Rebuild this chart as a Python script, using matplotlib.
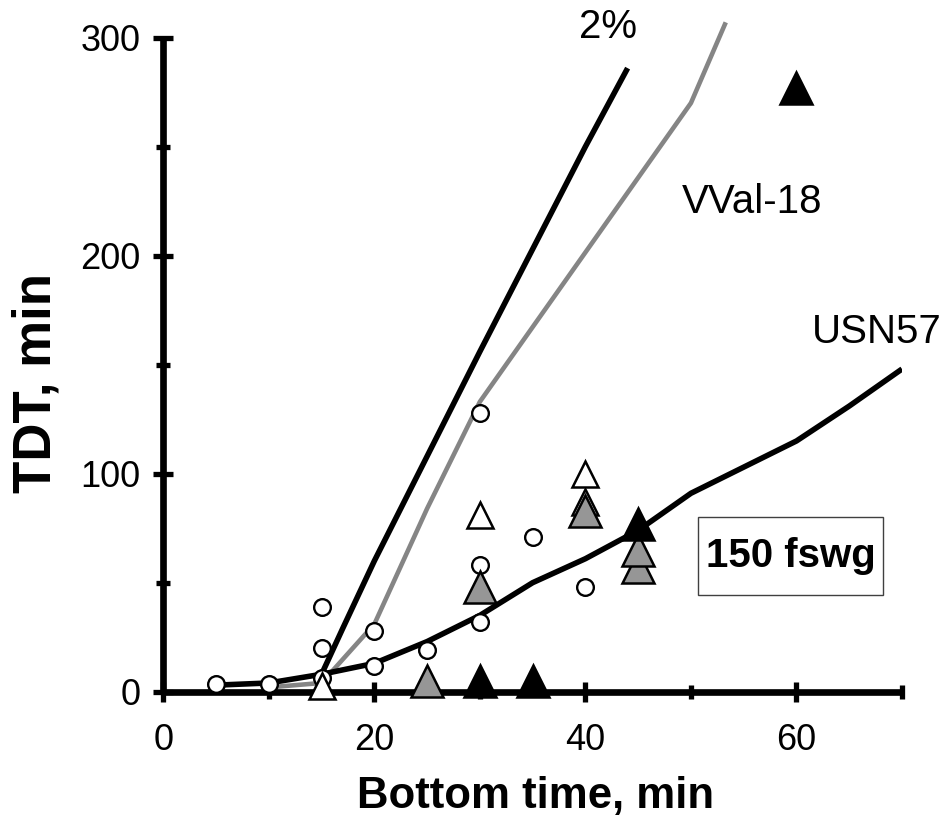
import matplotlib
matplotlib.use("Agg")
import matplotlib.pyplot as plt
from matplotlib.patches import Rectangle

plt.rcParams['font.family'] = ['Liberation Sans', 'DejaVu Sans']

# ---- data ----
usn_x = [5, 10, 15, 20, 25, 30, 35, 40, 45, 50, 55, 60, 65, 70]
usn_y = [3, 4, 8, 13, 23, 35, 50, 61, 74, 91, 103, 115, 131, 148]

two_x = [15, 17, 20, 25, 30, 35, 40, 44]
two_y = [8, 29, 60, 108, 156, 203, 250, 286]

vval_x = [10, 15, 20, 25, 30, 50, 53.3]
vval_y = [2, 4, 31, 84, 133, 270, 307]

circ_x = [5, 10, 15, 15, 15, 20, 20, 25, 30, 30, 30, 35, 40]
circ_y = [3.5, 3.5, 39, 20, 6.5, 28, 12, 19, 128, 58, 32, 71, 48]

wtri_x = [15, 30, 40, 40]
wtri_y = [2.5, 81, 87, 100]

gtri_x = [25, 30, 40, 45, 45]
gtri_y = [5, 48, 83, 57, 65]

btri_x = [30, 35, 45, 60]
btri_y = [5, 5, 77, 277]

xticks = [0, 20, 40, 60]
xminor = [10, 30, 50, 70]
yticks = [0, 100, 200, 300]
yminor = [50, 150, 250]

W, H = 949, 818
fig = plt.figure(figsize=(W / 100, H / 100), dpi=100)
x0, x1 = 163.3, 902.0
y0, y1 = 691.7, 37.6
ax = fig.add_axes([x0 / W, 1 - y0 / H, (x1 - x0) / W, (y0 - y1) / H])
ax.set_xlim(0, 70)
ax.set_ylim(0, 300)

GRAYLINE = '#858585'
GRAYFILL = '#969696'

ax.plot(two_x, two_y, color='black', lw=4.0, zorder=3, solid_capstyle='butt')
ax.plot(vval_x, vval_y, color=GRAYLINE, lw=3.3, zorder=3, clip_on=False,
        solid_capstyle='butt')
ax.plot(usn_x, usn_y, color='black', lw=4.0, zorder=3, solid_capstyle='butt')

ax.plot(circ_x, circ_y, ls='none', marker='o', ms=12, mfc='white', mec='black',
        mew=1.7, zorder=5, clip_on=False)
ax.plot(wtri_x, wtri_y, ls='none', marker='^', ms=19, mfc='white', mec='black',
        mew=1.8, zorder=6, clip_on=False)
ax.plot(gtri_x, gtri_y, ls='none', marker='^', ms=23, mfc=GRAYFILL, mec='black',
        mew=1.8, zorder=7, clip_on=False)
ax.plot(btri_x, btri_y, ls='none', marker='^', ms=23, mfc='black', mec='black',
        mew=1.8, zorder=8, clip_on=False)

for s in ['top', 'right']:
    ax.spines[s].set_visible(False)
for s in ['left', 'bottom']:
    ax.spines[s].set_linewidth(4.8)
    ax.spines[s].set_capstyle('butt')

ax.set_xticks(xticks)
ax.set_xticks(xminor, minor=True)
ax.set_yticks(yticks)
ax.set_yticks(yminor, minor=True)
ax.tick_params(which='major', direction='inout', length=14.4, width=3.8,
               labelsize=26, color='black')
ax.tick_params(which='minor', direction='inout', length=10, width=3.8,
               color='black')
ax.tick_params(axis='x', which='major', pad=15)
ax.tick_params(axis='y', which='major', pad=9)

fig.text(536 / W, 1 - 808 / H, 'Bottom time, min', fontsize=31.5,
         fontweight='bold', ha='center', va='baseline')
fig.text(37 / W, 1 - 383 / H, 'TDT, min', fontsize=38, fontweight='bold',
         rotation=90, ha='center', va='center')

ax.text(42.1, 305, '2%', fontsize=29, ha='center', va='center', clip_on=False)
ax.text(55.8, 224.8, 'VVal-18', fontsize=29, ha='center', va='center')
ax.text(67.6, 165.1, 'USN57', fontsize=29, ha='center', va='center',
        clip_on=False)

ax.add_patch(Rectangle((50.7, 44.4), 17.5, 35.9, fill=True, facecolor='white',
                       edgecolor='#404040', lw=1.0, zorder=4))
ax.text(59.5, 62.3, '150 fswg', fontsize=29, fontweight='bold', ha='center',
        va='center', zorder=9)

fig.savefig('out.png', dpi=100)
